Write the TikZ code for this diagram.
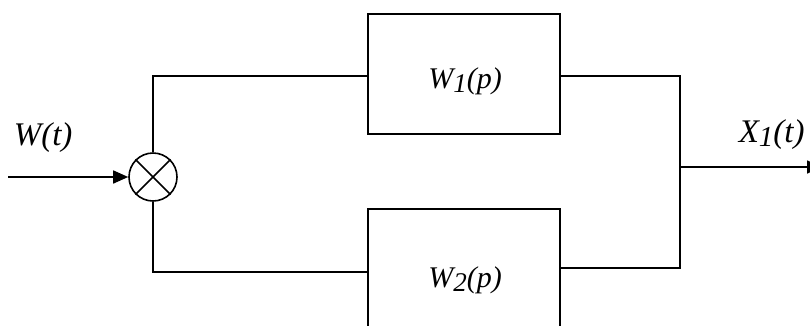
\documentclass[tikz,border=0pt]{standalone}
\usepackage{fontspec}
\setmainfont{Liberation Serif}
\usetikzlibrary{arrows.meta}
\newcommand{\subidx}[2]{\raisebox{-0.15em}{\fontsize{#2}{#2}\selectfont #1}}
\begin{document}
\begin{tikzpicture}[x=1pt,y=-1pt,line width=1.6pt,
  blk/.style={draw,minimum width=192pt,minimum height=120pt,inner sep=0pt},
  lbl/.style={font=\fontsize{30}{32}\selectfont\itshape,inner sep=0pt,anchor=base},
  siglbl/.style={font=\fontsize{33}{35}\selectfont\itshape,inner sep=0pt,anchor=base west},
  sumc/.style={draw,circle,minimum size=48pt,inner sep=0pt},
  arr/.style={-{Triangle[length=15pt,width=13pt]}}]
\useasboundingbox (0,0) rectangle (810,325);
\clip (0,0) rectangle (810,325);
\node[sumc] (s) at (153,177) {};
\draw (s.north west) -- (s.south east) (s.north east) -- (s.south west);
\node[blk] (b1) at (464,74) {};
\node[blk] (b2) at (464,269) {};
\node[lbl] (t1) at (465,88) {W\subidx{1}{27}(p)};
\node[lbl] (t2) at (465,287) {W\subidx{2}{27}(p)};
\coordinate (in) at (8,177);
\coordinate (j) at (680,167);
\coordinate (out) at (822,167);
\draw[arr] (in) -- (s);
\draw (s.north) |- (b1.west|-0,76);
\draw (s.south) |- (b2.west|-0,272);
\draw (b1.east|-0,76) -| (j);
\draw (b2.east|-0,268) -| (j);
\draw[arr] (j) -- (out);
\node[siglbl] (lw) at (13,145) {W(t)};
\node[siglbl] (lx) at (738,142) {X\subidx{1}{29}(t)};
\end{tikzpicture}
\end{document}
